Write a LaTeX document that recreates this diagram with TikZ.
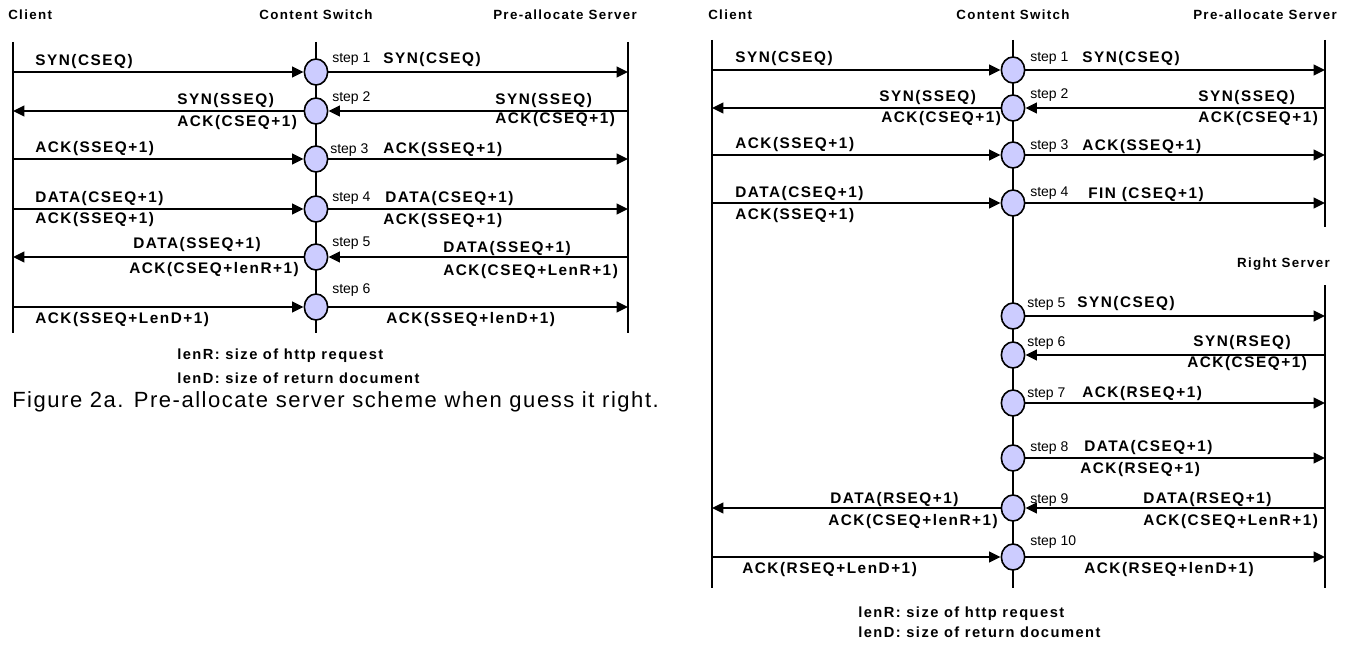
\documentclass[tikz,border=0pt]{standalone}
\usepackage{fontspec}
\setmainfont{Liberation Sans}
\newfontfamily\lblfont[LetterSpace=10]{Liberation Sans}
\newfontfamily\capfont[LetterSpace=7]{Liberation Sans}
\usetikzlibrary{shapes.geometric, arrows.meta}
\definecolor{hopfill}{RGB}{204,204,255}
\tikzstyle{hop} = [ellipse, minimum width=17.5pt, minimum height=19.5pt, inner sep=0pt, draw=black, line width=1.2pt, fill=hopfill]
\tikzstyle{title} = [font=\lblfont\bfseries\fontsize{10}{12}\selectfont, inner sep=0pt, text height=7.2pt, text depth=0pt]
\tikzstyle{msg} = [font=\lblfont\bfseries\fontsize{11.5}{13}\selectfont, inner sep=0pt, anchor=west, text height=8.2pt, text depth=0pt]
\tikzstyle{steplbl} = [font=\fontsize{10.5}{12}\selectfont, inner sep=0pt, anchor=west, text height=7.5pt, text depth=0pt]
\tikzstyle{note} = [font=\lblfont\bfseries\fontsize{11}{13}\selectfont, inner sep=0pt, anchor=west, text height=7.9pt, text depth=0pt]
\tikzstyle{lifeline} = [line width=1.4pt]
\tikzstyle{arrow} = [line width=1.4pt, -{Triangle[length=8.5pt,width=8pt]}]
\begin{document}
\begin{tikzpicture}[x=0.75pt, y=-0.75pt]
	\useasboundingbox (0,0) rectangle (1348,645);

	\node (aclient) [title, anchor=west] at (8,15) {Client};
	\node (aswitch) [title] at (316,15) {Content Switch};
	\node (aserver) [title, anchor=east] at (637,15) {Pre-allocate Server};

	\coordinate (actop) at (13,42);
	\coordinate (acbot) at (13,333);
	\coordinate (astop) at (316,42);
	\coordinate (asbot) at (316,333);
	\coordinate (aptop) at (628,42);
	\coordinate (apbot) at (628,333);
	\draw [lifeline] (actop) -- (acbot);
	\draw [lifeline] (astop) -- (asbot);
	\draw [lifeline] (aptop) -- (apbot);

	\coordinate (acl1) at (13,72);
	\coordinate (acl2) at (13,111);
	\coordinate (acl3) at (13,159);
	\coordinate (acl4) at (13,209);
	\coordinate (acl5) at (13,257);
	\coordinate (acl6) at (13,307);
	\coordinate (asv1) at (628,72);
	\coordinate (asv2) at (628,111);
	\coordinate (asv3) at (628,159);
	\coordinate (asv4) at (628,209);
	\coordinate (asv5) at (628,257);
	\coordinate (asv6) at (628,307);

	\node (asw1) [hop] at (316,72) {};
	\node (asw2) [hop] at (316,111) {};
	\node (asw3) [hop] at (316,159) {};
	\node (asw4) [hop] at (316,209) {};
	\node (asw5) [hop] at (316,257) {};
	\node (asw6) [hop] at (316,307) {};

	\draw [arrow] (acl1) -- (asw1);
	\draw [arrow] (asw1) -- (asv1);
	\draw [arrow] (asv2) -- (asw2);
	\draw [arrow] (asw2) -- (acl2);
	\draw [arrow] (acl3) -- (asw3);
	\draw [arrow] (asw3) -- (asv3);
	\draw [arrow] (acl4) -- (asw4);
	\draw [arrow] (asw4) -- (asv4);
	\draw [arrow] (asv5) -- (asw5);
	\draw [arrow] (asw5) -- (acl5);
	\draw [arrow] (acl6) -- (asw6);
	\draw [arrow] (asw6) -- (asv6);

	\node (ac1) [msg] at (35,60) {SYN(CSEQ)};
	\node (ast1) [steplbl] at (332,58) {step 1};
	\node (as1) [msg] at (383,58) {SYN(CSEQ)};
	\node (ac2a) [msg] at (177,99) {SYN(SSEQ)};
	\node (ac2b) [msg] at (177,121) {ACK(CSEQ+1)};
	\node (ast2) [steplbl] at (332,97) {step 2};
	\node (as2a) [msg] at (495,99) {SYN(SSEQ)};
	\node (as2b) [msg] at (495,118) {ACK(CSEQ+1)};
	\node (ac3) [msg] at (35,147) {ACK(SSEQ+1)};
	\node (ast3) [steplbl] at (330,149) {step 3};
	\node (as3) [msg] at (383,148) {ACK(SSEQ+1)};
	\node (ac4a) [msg] at (35,197) {DATA(CSEQ+1)};
	\node (ac4b) [msg] at (35,218) {ACK(SSEQ+1)};
	\node (ast4) [steplbl] at (332,197) {step 4};
	\node (as4a) [msg] at (385,197) {DATA(CSEQ+1)};
	\node (as4b) [msg] at (383,219) {ACK(SSEQ+1)};
	\node (ac5a) [msg] at (133,243) {DATA(SSEQ+1)};
	\node (ac5b) [msg] at (129,268) {ACK(CSEQ+lenR+1)};
	\node (ast5) [steplbl] at (332,242) {step 5};
	\node (as5a) [msg] at (443,247) {DATA(SSEQ+1)};
	\node (as5b) [msg] at (443,270) {ACK(CSEQ+LenR+1)};
	\node (ast6) [steplbl] at (332,288) {step 6};
	\node (ac6) [msg] at (35,318) {ACK(SSEQ+LenD+1)};
	\node (as6) [msg] at (386,318) {ACK(SSEQ+lenD+1)};

	\node (alenr) [note] at (177,354) {lenR: size of http request};
	\node (alend) [note] at (177,378) {lenD: size of return document};
	\node (caption) [font=\capfont\fontsize{16.5}{19}\selectfont, inner sep=0pt, anchor=west] at (12,402) {Figure 2a. Pre-allocate server scheme when guess it right.};

	\node (bclient) [title, anchor=west] at (708,15) {Client};
	\node (bswitch) [title] at (1013,15) {Content Switch};
	\node (bserver) [title, anchor=east] at (1337,15) {Pre-allocate Server};
	\node (bright) [title, anchor=east] at (1330,263) {Right Server};

	\coordinate (bctop) at (712,40);
	\coordinate (bcbot) at (712,588);
	\coordinate (bstop) at (1013,40);
	\coordinate (bsbot) at (1013,588);
	\coordinate (bptop) at (1325,40);
	\coordinate (bpbot) at (1325,227);
	\coordinate (brtop) at (1325,285);
	\coordinate (brbot) at (1325,588);
	\draw [lifeline] (bctop) -- (bcbot);
	\draw [lifeline] (bstop) -- (bsbot);
	\draw [lifeline] (bptop) -- (bpbot);
	\draw [lifeline] (brtop) -- (brbot);

	\coordinate (bcl1) at (712,70);
	\coordinate (bcl2) at (712,108);
	\coordinate (bcl3) at (712,155);
	\coordinate (bcl4) at (712,203);
	\coordinate (bcl9) at (712,508);
	\coordinate (bcl10) at (712,557);
	\coordinate (bsv1) at (1325,70);
	\coordinate (bsv2) at (1325,108);
	\coordinate (bsv3) at (1325,155);
	\coordinate (bsv4) at (1325,203);
	\coordinate (bsv5) at (1325,316);
	\coordinate (bsv6) at (1325,355);
	\coordinate (bsv7) at (1325,403);
	\coordinate (bsv8) at (1325,458);
	\coordinate (bsv9) at (1325,508);
	\coordinate (bsv10) at (1325,557);

	\node (bsw1) [hop] at (1013,70) {};
	\node (bsw2) [hop] at (1013,108) {};
	\node (bsw3) [hop] at (1013,155) {};
	\node (bsw4) [hop] at (1013,203) {};
	\node (bsw5) [hop] at (1013,316) {};
	\node (bsw6) [hop] at (1013,355) {};
	\node (bsw7) [hop] at (1013,403) {};
	\node (bsw8) [hop] at (1013,458) {};
	\node (bsw9) [hop] at (1013,508) {};
	\node (bsw10) [hop] at (1013,557) {};

	\draw [arrow] (bcl1) -- (bsw1);
	\draw [arrow] (bsw1) -- (bsv1);
	\draw [arrow] (bsv2) -- (bsw2);
	\draw [arrow] (bsw2) -- (bcl2);
	\draw [arrow] (bcl3) -- (bsw3);
	\draw [arrow] (bsw3) -- (bsv3);
	\draw [arrow] (bcl4) -- (bsw4);
	\draw [arrow] (bsw4) -- (bsv4);
	\draw [arrow] (bsw5) -- (bsv5);
	\draw [arrow] (bsv6) -- (bsw6);
	\draw [arrow] (bsw7) -- (bsv7);
	\draw [arrow] (bsw8) -- (bsv8);
	\draw [arrow] (bsv9) -- (bsw9);
	\draw [arrow] (bsw9) -- (bcl9);
	\draw [arrow] (bcl10) -- (bsw10);
	\draw [arrow] (bsw10) -- (bsv10);

	\node (bc1) [msg] at (735,57) {SYN(CSEQ)};
	\node (bst1) [steplbl] at (1030,57) {step 1};
	\node (bs1) [msg] at (1082,57) {SYN(CSEQ)};
	\node (bc2a) [msg] at (879,96) {SYN(SSEQ)};
	\node (bc2b) [msg] at (881,117) {ACK(CSEQ+1)};
	\node (bst2) [steplbl] at (1030,94) {step 2};
	\node (bs2a) [msg] at (1198,96) {SYN(SSEQ)};
	\node (bs2b) [msg] at (1198,117) {ACK(CSEQ+1)};
	\node (bc3) [msg] at (735,143) {ACK(SSEQ+1)};
	\node (bst3) [steplbl] at (1030,145) {step 3};
	\node (bs3) [msg] at (1082,145) {ACK(SSEQ+1)};
	\node (bc4a) [msg] at (735,192) {DATA(CSEQ+1)};
	\node (bc4b) [msg] at (735,214) {ACK(SSEQ+1)};
	\node (bst4) [steplbl] at (1030,192) {step 4};
	\node (bs4) [msg] at (1088,193) {FIN (CSEQ+1)};
	\node (bst5) [steplbl] at (1027,302) {step 5};
	\node (bs5) [msg] at (1077,302) {SYN(CSEQ)};
	\node (bst6) [steplbl] at (1027,341) {step 6};
	\node (bs6a) [msg] at (1193,341) {SYN(RSEQ)};
	\node (bs6b) [msg] at (1187,362) {ACK(CSEQ+1)};
	\node (bst7) [steplbl] at (1027,392) {step 7};
	\node (bs7) [msg] at (1082,392) {ACK(RSEQ+1)};
	\node (bst8) [steplbl] at (1030,446) {step 8};
	\node (bs8a) [msg] at (1084,446) {DATA(CSEQ+1)};
	\node (bs8b) [msg] at (1080,468) {ACK(RSEQ+1)};
	\node (bc9a) [msg] at (830,498) {DATA(RSEQ+1)};
	\node (bc9b) [msg] at (828,520) {ACK(CSEQ+lenR+1)};
	\node (bst9) [steplbl] at (1030,498) {step 9};
	\node (bs9a) [msg] at (1143,498) {DATA(RSEQ+1)};
	\node (bs9b) [msg] at (1143,520) {ACK(CSEQ+LenR+1)};
	\node (bst10) [steplbl] at (1030,540) {step 10};
	\node (bc10) [msg] at (742,568) {ACK(RSEQ+LenD+1)};
	\node (bs10) [msg] at (1084,568) {ACK(RSEQ+lenD+1)};

	\node (blenr) [note] at (858,612) {lenR: size of http request};
	\node (blend) [note] at (858,632) {lenD: size of return document};
\end{tikzpicture}
\end{document}
